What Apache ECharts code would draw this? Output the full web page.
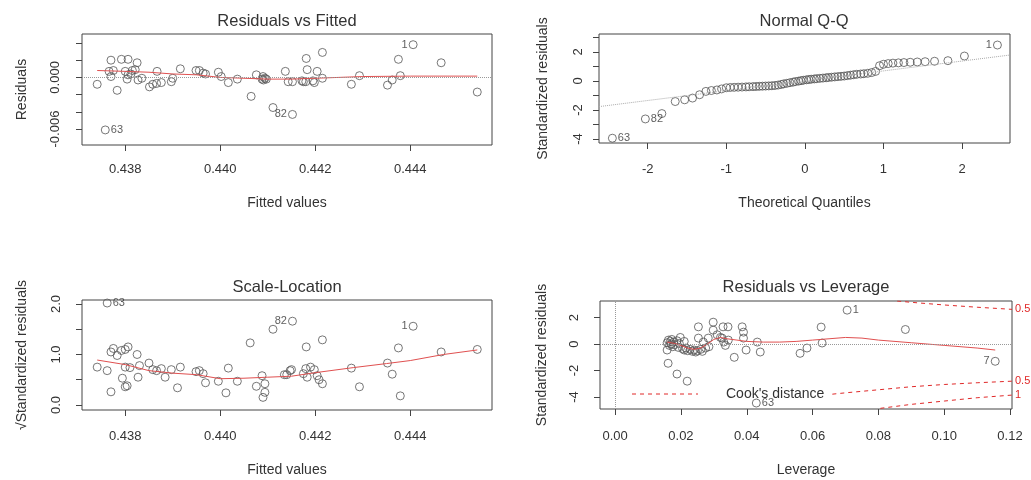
<!DOCTYPE html>
<html><head><meta charset="utf-8">
<script src="https://cdn.jsdelivr.net/npm/echarts@6/dist/echarts.min.js"></script>
<style>html,body{margin:0;padding:0;background:#fff}#c{width:1031px;height:480px}</style>
</head><body><div id="c"></div>
<script>
// ---------- Panel 1: Residuals vs Fitted ----------
const rfFitted = [0.43741,0.43758,0.43766,0.4377,0.4377,0.43775,0.43783,0.43792,0.438,0.43804,0.43806,0.43806,0.43812,0.43815,0.43821,0.43825,0.43827,0.43835,0.43851,0.43858,0.43866,0.43867,0.43876,0.43897,0.439,0.43916,0.43949,0.43956,0.43964,0.43969,0.43996,0.44002,0.44017,0.44036,0.44065,0.44076,0.44088,0.4409,0.44091,0.44094,0.44097,0.44111,0.44137,0.44143,0.44152,0.44152,0.44172,0.44175,0.4418,0.44181,0.44183,0.44195,0.44198,0.44204,0.44215,0.44215,0.44276,0.44293,0.44352,0.44362,0.44375,0.44379,0.44406,0.44465,0.44541];
const rfResid = [-0.0008,-0.0061,0.0007,0.0020,0.0001,0.0008,-0.0015,0.0021,0.0007,-0.0002,0.0021,0.0003,0.0004,0.0008,0.0009,0.0017,-0.0003,-0.0001,-0.0011,-0.0008,-0.0007,0.0007,-0.0006,-0.0005,-0.0001,0.0010,0.0008,0.0008,0.0005,0.0004,0.0006,0.0001,-0.0006,-0.0002,-0.0022,0.0003,-0.0002,0.0001,-0.0003,-0.0001,-0.0002,-0.0035,0.0007,-0.0005,-0.0005,-0.0043,-0.0004,-0.0005,-0.0005,0.0022,0.0009,-0.0004,-0.0006,0.0007,-0.0001,0.0029,-0.0008,0.0002,-0.0009,-0.0003,0.0021,0.0002,0.0038,0.0017,-0.0017];
const rfSmoothX = [0.43741,0.438,0.4385,0.439,0.4395,0.44,0.4405,0.441,0.4415,0.442,0.443,0.444,0.44541];
const rfSmoothY = [0.0008,0.0007,0.0006,0.0004,0.0003,0.0,-0.0001,-0.0002,-0.0002,-0.0001,0.0001,0.00015,0.00015];
const rfIdX = [0.43758,0.44152,0.44406];
const rfIdY = [-0.0061,-0.0043,0.0038];
const rfIdText = ['63','82','1'];
const rfXTicks = [0.438,0.440,0.442,0.444];
const rfYTicks = [-0.006,-0.004,-0.002,0,0.002,0.004];
const rfYLabels = [-0.006,0];

// ---------- Panel 2: Normal Q-Q ----------
const qqTheo = [-2.45,-2.03,-1.82,-1.65,-1.53,-1.43,-1.34,-1.26,-1.19,-1.12,-1.06,-1.0,-0.95,-0.9,-0.85,-0.8,-0.75,-0.71,-0.66,-0.62,-0.58,-0.54,-0.5,-0.46,-0.42,-0.38,-0.34,-0.3,-0.27,-0.23,-0.19,-0.15,-0.12,-0.08,-0.05,-0.02,0.02,0.05,0.08,0.12,0.15,0.19,0.23,0.27,0.3,0.34,0.38,0.42,0.46,0.5,0.54,0.58,0.62,0.66,0.71,0.75,0.8,0.85,0.9,0.95,1.0,1.06,1.12,1.19,1.26,1.34,1.43,1.53,1.65,1.82,2.03,2.45];
const qqStd = [-3.95,-2.62,-2.25,-1.42,-1.3,-1.18,-0.95,-0.72,-0.66,-0.62,-0.55,-0.47,-0.45,-0.44,-0.43,-0.42,-0.41,-0.40,-0.39,-0.38,-0.37,-0.36,-0.35,-0.34,-0.33,-0.31,-0.28,-0.24,-0.2,-0.16,-0.12,-0.08,-0.04,-0.01,0.02,0.05,0.08,0.1,0.12,0.14,0.16,0.18,0.2,0.22,0.24,0.26,0.28,0.3,0.32,0.34,0.37,0.4,0.43,0.46,0.48,0.5,0.53,0.58,0.66,1.05,1.15,1.2,1.23,1.25,1.27,1.29,1.31,1.33,1.36,1.4,1.72,2.48];
const qqLineX = [-2.62,2.61];
const qqLineY = [-1.77,1.79];
const qqIdX = [-2.45,-2.03,2.45];
const qqIdY = [-3.95,-2.62,2.48];
const qqIdText = ['63','82','1'];
const qqXTicks = [-2,-1,0,1,2];
const qqYTicks = [-4,-3,-2,-1,0,1,2,3];
const qqYLabels = [-4,-2,0,2];

// ---------- Panel 3: Scale-Location ----------
const slFitted = [0.43741,0.43762,0.43762,0.4377,0.4377,0.43775,0.43783,0.43792,0.43794,0.438,0.438,0.43804,0.43806,0.438,0.4381,0.43825,0.4383,0.43827,0.4385,0.43858,0.43866,0.43876,0.43884,0.43897,0.4391,0.43916,0.43949,0.43956,0.43964,0.43969,0.43996,0.44012,0.44017,0.44036,0.44063,0.44076,0.44088,0.44094,0.44094,0.4409,0.44111,0.44152,0.44135,0.4414,0.44147,0.4415,0.44175,0.4418,0.44181,0.44183,0.4419,0.44198,0.44204,0.44208,0.44215,0.44215,0.44276,0.44293,0.44352,0.44362,0.44375,0.44379,0.44406,0.44465,0.44541];
const slRoot = [0.75,2.02,0.68,0.26,1.05,1.12,0.98,1.08,0.53,1.1,0.36,0.38,1.15,0.75,0.74,1.0,0.78,0.55,0.83,0.7,0.68,0.72,0.55,0.7,0.34,0.75,0.66,0.68,0.62,0.44,0.47,0.24,0.73,0.47,1.23,0.37,0.58,0.42,0.25,0.15,1.5,1.66,0.6,0.6,0.68,0.7,0.62,0.72,1.15,0.55,0.75,0.7,0.58,0.5,1.29,0.42,0.73,0.36,0.83,0.61,1.13,0.18,1.56,1.05,1.1];
const slSmoothX = [0.43741,0.438,0.4385,0.439,0.4395,0.44,0.4405,0.441,0.4415,0.442,0.4428,0.4435,0.444,0.4447,0.44541];
const slSmoothY = [0.89,0.8,0.68,0.63,0.6,0.52,0.53,0.55,0.57,0.64,0.74,0.82,0.88,1.0,1.09];
const slIdX = [0.43762,0.44152,0.44406];
const slIdY = [2.02,1.66,1.56];
const slIdText = ['63','82','1'];
const slYTicks = [0,0.5,1,1.5,2];
const slYLabels = [0,1,2];

// ---------- Panel 4: Residuals vs Leverage ----------
const lvLev = [0.0158,0.0162,0.0165,0.0168,0.017,0.0172,0.0175,0.0178,0.018,0.0158,0.0161,0.0188,0.0219,0.0198,0.0188,0.0195,0.0192,0.0205,0.021,0.021,0.0215,0.022,0.0228,0.0235,0.024,0.0245,0.025,0.0253,0.0253,0.026,0.0265,0.0268,0.0275,0.0283,0.0285,0.0298,0.0298,0.031,0.032,0.0325,0.0328,0.033,0.0335,0.0343,0.0344,0.0362,0.0386,0.039,0.039,0.0398,0.0429,0.0432,0.0441,0.0562,0.0583,0.0626,0.0629,0.0705,0.0882,0.1155];
const lvStd = [0.1,0.3,-0.1,0.2,0.0,0.35,-0.2,0.15,-0.05,-0.45,-1.45,-2.26,-2.8,0.5,0.25,0.05,-0.25,-0.35,-0.45,0.2,-0.3,-0.5,-0.4,-0.55,-0.45,-0.6,-0.5,1.3,0.45,-0.4,-0.55,0.15,-0.3,0.45,-0.2,1.65,1.05,0.7,0.5,0.45,1.3,0.15,-0.1,1.3,0.3,-1.0,1.3,0.9,0.45,-0.45,-4.45,0.15,-0.6,-0.7,-0.3,1.28,0.08,2.56,1.1,-1.3];
const lvSmoothX = [0.0158,0.018,0.02,0.022,0.024,0.026,0.028,0.03,0.032,0.034,0.037,0.04,0.045,0.05,0.055,0.06,0.065,0.07,0.075,0.08,0.09,0.1,0.11,0.1155];
const lvSmoothY = [0.15,0.05,-0.1,-0.3,-0.4,-0.3,0.0,0.35,0.5,0.4,0.3,0.2,0.15,0.15,0.2,0.3,0.4,0.5,0.45,0.3,0.1,-0.1,-0.3,-0.45];
const cook05UpX = [0.0857,0.09,0.1,0.11,0.1206];
const cook05UpY = [3.25,3.15,2.95,2.78,2.62];
const cook05LoX = [0.066,0.07,0.08,0.09,0.1,0.11,0.1206];
const cook05LoY = [-3.78,-3.68,-3.45,-3.22,-3.05,-2.92,-2.8];
const cook1LoX = [0.0806,0.09,0.1,0.11,0.1206];
const cook1LoY = [-4.85,-4.55,-4.3,-4.05,-3.85];
const lvIdX = [0.0429,0.0705,0.1155];
const lvIdY = [-4.45,2.56,-1.3];
const lvIdText = ['63','1','7'];
const lvXTicks = [0,0.02,0.04,0.06,0.08,0.10,0.12];
const lvYTicks = [-4,-2,0,2];

// ---------- build ----------
const FONT = "'Liberation Sans', Arial, sans-serif";
const TXT = '#333';
const PT = '#555';
const RED = '#e05050';
const TICK_FS = 13;
const NAME_FS = 14;
const TITLE_FS = 16.5;
const pairs = (xs, ys) => xs.map((x, i) => [x, ys[i]]);

function grid(l, t, w, h) {
  return {left: l, top: t, width: w, height: h, show: true, borderColor: '#444', borderWidth: 1,
    containLabel: false, outerBoundsMode: 'none'};
}
function xAxis(gi, min, max, ticks, labels, fmt, name, nameGap, margin) {
  return {type: 'value', gridIndex: gi, position: 'bottom', min, max, name, nameLocation: 'middle', nameGap,
    nameTextStyle: {fontSize: NAME_FS, color: TXT, fontFamily: FONT},
    axisLine: {show: false, onZero: false}, splitLine: {show: false},
    axisTick: {show: true, inside: false, length: 6, lineStyle: {color: '#444'}, customValues: ticks},
    axisLabel: {show: true, margin, fontSize: TICK_FS, color: TXT, fontFamily: FONT, customValues: labels, formatter: fmt}};
}
function yAxis(gi, min, max, ticks, labels, fmt, name, nameGap, margin) {
  return {type: 'value', gridIndex: gi, position: 'left', min, max, name, nameLocation: 'middle', nameGap, nameRotate: 90,
    nameTextStyle: {fontSize: NAME_FS, color: TXT, fontFamily: FONT},
    axisLine: {show: false, onZero: false}, splitLine: {show: false},
    axisTick: {show: true, inside: false, length: 6, lineStyle: {color: '#444'}, customValues: ticks},
    axisLabel: {show: true, rotate: 90, margin, fontSize: TICK_FS, color: TXT, fontFamily: FONT, customValues: labels, formatter: fmt}};
}
function pts(gi, xs, ys, extra) {
  return Object.assign({type: 'scatter', xAxisIndex: gi, yAxisIndex: gi, data: pairs(xs, ys),
    symbol: 'circle', symbolSize: 8, silent: true,
    itemStyle: {color: 'rgba(0,0,0,0)', borderColor: PT, borderWidth: 1}}, extra || {});
}
function ids(gi, xs, ys, texts) {
  const mid = (Math.min(...xs) + Math.max(...xs)) / 2;
  return {type: 'scatter', xAxisIndex: gi, yAxisIndex: gi, symbolSize: 1, silent: true,
    itemStyle: {color: 'rgba(0,0,0,0)'},
    data: xs.map((x, i) => ({value: [x, ys[i]], label: {show: true, formatter: texts[i],
      position: x > mid ? 'left' : 'right', distance: 5, fontSize: 11, color: TXT, fontFamily: FONT}}))};
}
function line(gi, xs, ys, style, extra) {
  return Object.assign({type: 'line', xAxisIndex: gi, yAxisIndex: gi, data: pairs(xs, ys), symbol: 'none',
    silent: true, smooth: false, lineStyle: style}, extra || {});
}
const zeroStyle = {type: 'dotted', color: '#999', width: 1};
const cookStyle = {type: [4, 4], color: '#e02828', width: 1};
const cookEnd = t => ({endLabel: {show: true, formatter: t, color: '#e02828', fontSize: 11, fontFamily: FONT, distance: 3}});

const f3 = v => v.toFixed(3);
const f1 = v => v.toFixed(1);
const f2 = v => v.toFixed(2);
const fi = v => String(Math.round(v));
const titleStyle = {fontSize: TITLE_FS, fontWeight: 'normal', color: TXT, fontFamily: FONT};

const option = {
  animation: false,
  backgroundColor: '#fff',
  title: [
    {text: 'Residuals vs Fitted', left: 287, top: 13, textAlign: 'center', padding: 0, textStyle: titleStyle},
    {text: 'Normal Q-Q', left: 804, top: 13, textAlign: 'center', padding: 0, textStyle: titleStyle},
    {text: 'Scale-Location', left: 287, top: 279, textAlign: 'center', padding: 0, textStyle: titleStyle},
    {text: 'Residuals vs Leverage', left: 806, top: 279, textAlign: 'center', padding: 0, textStyle: titleStyle}
  ],
  grid: [grid(82, 34, 410, 111), grid(599, 34, 411, 109), grid(82, 300, 410, 110), grid(600, 301, 412, 108)],
  xAxis: [
    xAxis(0, 0.43709, 0.44572, rfXTicks, rfXTicks, f3, 'Fitted values', 51, 18),
    xAxis(1, -2.62, 2.61, qqXTicks, qqXTicks, fi, 'Theoretical Quantiles', 53, 20),
    xAxis(2, 0.43709, 0.44572, rfXTicks, rfXTicks, f3, 'Fitted values', 53, 20),
    xAxis(3, -0.0046, 0.1206, lvXTicks, lvXTicks, f2, 'Leverage', 54, 21)
  ],
  yAxis: [
    yAxis(0, -0.00785, 0.00504, rfYTicks, rfYLabels, f3, 'Residuals', 53, 20),
    yAxis(1, -4.28, 3.24, qqYTicks, qqYLabels, fi, 'Standardized residuals', 49, 14),
    yAxis(2, -0.1, 2.08, slYTicks, slYLabels, f1, '\u221AStandardized residuals', 53, 19),
    yAxis(3, -4.9, 3.25, lvYTicks, lvYTicks, fi, 'Standardized residuals', 51, 19)
  ],
  series: [
    pts(0, rfFitted, rfResid, {markLine: {silent: true, symbol: 'none', label: {show: false},
      lineStyle: zeroStyle, data: [{yAxis: 0}]}}),
    line(0, rfSmoothX, rfSmoothY, {color: RED, width: 1}),
    ids(0, rfIdX, rfIdY, rfIdText),

    line(1, qqLineX, qqLineY, {color: '#aaa', width: 1, type: 'dotted'}),
    pts(1, qqTheo, qqStd),
    ids(1, qqIdX, qqIdY, qqIdText),

    pts(2, slFitted, slRoot),
    line(2, slSmoothX, slSmoothY, {color: RED, width: 1}),
    ids(2, slIdX, slIdY, slIdText),

    pts(3, lvLev, lvStd, {markLine: {silent: true, symbol: 'none', label: {show: false},
      lineStyle: zeroStyle, data: [{yAxis: 0}, {xAxis: 0}]}}),
    line(3, lvSmoothX, lvSmoothY, {color: RED, width: 1}),
    line(3, cook05UpX, cook05UpY, cookStyle, cookEnd('0.5')),
    line(3, cook05LoX, cook05LoY, cookStyle, cookEnd('0.5')),
    line(3, cook1LoX, cook1LoY, cookStyle, cookEnd('1')),
    ids(3, lvIdX, lvIdY, lvIdText)
  ],
  graphic: [
    {type: 'line', silent: true, shape: {x1: 632, y1: 394, x2: 698, y2: 394},
      style: {stroke: '#e02828', lineWidth: 1, lineDash: [4, 4]}},
    {type: 'text', silent: true, x: 726, y: 394,
      style: {text: "Cook's distance", fill: TXT, fontSize: 14, fontFamily: FONT, verticalAlign: 'middle'}}
  ]
};

const chart = echarts.init(document.getElementById('c'), null, {renderer: 'canvas'});
chart.setOption(option);
</script>
</body></html>
